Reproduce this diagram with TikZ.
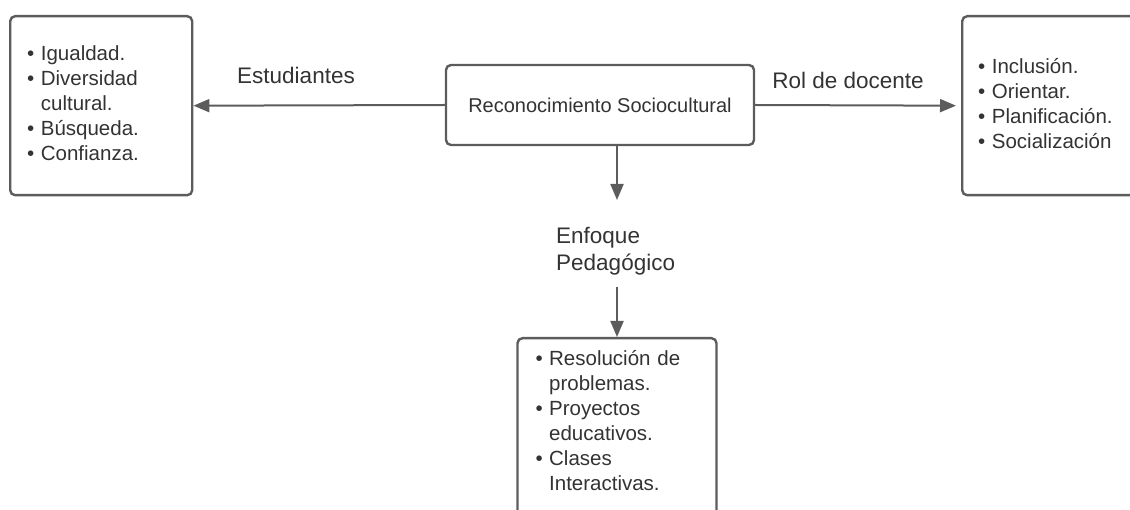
\documentclass[tikz,border=0pt]{standalone}
\usepackage{fontspec}
\setmainfont{Liberation Sans}
\usetikzlibrary{arrows.meta}
\definecolor{boxgray}{HTML}{5C5C5C}
\definecolor{txtgray}{HTML}{333333}

\begin{document}
\begin{tikzpicture}[x=1pt,y=-1pt,
    list node/.style={rectangle,rounded corners=5pt,draw=boxgray,line width=2.4pt,fill=white,text=txtgray,align=left,inner ysep=0pt,font=\fontsize{20.5}{25}\selectfont},
    main node/.style={rectangle,rounded corners=5pt,draw=boxgray,line width=2.4pt,fill=white,text=txtgray,minimum width=308pt,minimum height=80pt,font=\fontsize{20}{24}\selectfont},
    lbl/.style={inner sep=0pt,text=txtgray,font=\fontsize{22.5}{27}\selectfont},
    conn/.style={draw=boxgray,line width=2pt,-{Triangle[length=16pt,width=13pt]}}]
    \path[use as bounding box] (0,0) rectangle (1130,510);
    \clip (0,0) rectangle (1130,510);

                \node[main node] (recon) at (600,105) {Reconocimiento Sociocultural};
                \node[list node,anchor=north west,minimum height=179pt,inner xsep=17pt,text width=148pt] (estud) at (9,15)
                    {\begin{tabular}{@{}l@{\hskip 6.5pt}l@{}}
                     \textbullet & Igualdad.\\
                     \textbullet & Diversidad\\
                                 & cultural.\\
                     \textbullet & Búsqueda.\\
                     \textbullet & Confianza.
                     \end{tabular}};
                \node[list node,anchor=north west,minimum height=179pt,inner xsep=16pt,text width=152pt] (rol) at (961,15)
                    {\begin{tabular}{@{}l@{\hskip 6.5pt}l@{}}
                     \textbullet & Inclusión.\\
                     \textbullet & Orientar.\\
                     \textbullet & Planificación.\\
                     \textbullet & Socialización
                     \end{tabular}};
                \node[list node,anchor=north,inner xsep=18pt,inner ysep=10pt,text width=163pt,text depth=200pt] (enfoque) at (617,337)
                    {\begin{tabular}[t]{@{}l@{\hskip 6.5pt}l@{}}
                     \textbullet & Resolución de\\
                                 & problemas.\\
                     \textbullet & Proyectos\\
                                 & educativos.\\
                     \textbullet & Clases\\
                                 & Interactivas.
                     \end{tabular}};

                \node[lbl] (lestud) at (296,75) {Estudiantes};
                \node[lbl] (lrol) at (848,80) {Rol de docente};
                \node[lbl,align=left,anchor=west] (lenfoque) at (556,251) {Enfoque\\Pedagógico};

                \coordinate (t1) at (617,200);
                \coordinate (t2) at (617,287);

                \draw[conn] (recon.west) -- (estud.east);
                \draw[conn,shorten >=5pt] (recon.east) -- (rol.west);
                \draw[conn] (recon.south -| t1) -- (t1);
                \draw[conn] (t2) -- (t2 |- enfoque.north);
            \end{tikzpicture}
\end{document}
